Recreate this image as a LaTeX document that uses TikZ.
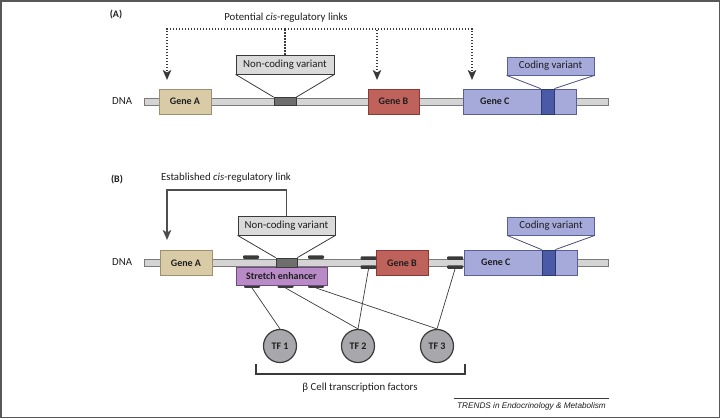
\documentclass[tikz,border=0pt]{standalone}
\usepackage{fontspec}
\setmainfont{Carlito}
\newfontfamily\trendsfont{Liberation Sans}
\usetikzlibrary{positioning,arrows.meta}

\definecolor{txtc}{HTML}{1E1E1E}
\definecolor{dnafill}{HTML}{D4D4D4}
\definecolor{dnaline}{HTML}{7A7A7A}
\definecolor{geneafill}{HTML}{D8CBA6}
\definecolor{genealine}{HTML}{9C9070}
\definecolor{genebfill}{HTML}{C0625C}
\definecolor{geneblline}{HTML}{8A3A36}
\definecolor{genecfill}{HTML}{A6AADB}
\definecolor{geneclline}{HTML}{5A5F9A}
\definecolor{cvfill}{HTML}{4B5AA6}
\definecolor{cvline}{HTML}{2E3870}
\definecolor{ncvfill}{HTML}{DADADA}
\definecolor{snvfill}{HTML}{6E6E6E}
\definecolor{enhfill}{HTML}{B88BC7}
\definecolor{enhline}{HTML}{6E4A80}
\definecolor{tffill}{HTML}{A8A8AC}
\definecolor{markc}{HTML}{3A3A3A}

\tikzset{
  dnabar/.style={draw=dnaline, fill=dnafill, line width=0.8pt, minimum width=464pt, minimum height=7pt, inner sep=0pt},
  gene/.style={draw, line width=0.8pt, minimum height=25pt, inner sep=0pt, font=\bfseries, text=txtc},
  callout/.style={draw=markc, fill=ncvfill, line width=0.8pt, minimum height=19pt, inner sep=0pt, text=txtc},
  snv/.style={draw=markc, fill=snvfill, line width=0.8pt, inner sep=0pt},
  site/.style={fill=markc, rounded corners=1pt, minimum width=16pt, minimum height=3.5pt, inner sep=0pt},
  tf/.style={circle, draw=markc, fill=tffill, line width=1.2pt, minimum size=33pt, inner sep=0pt, font=\bfseries, text=txtc},
  potlink/.style={draw=markc, line width=1.4pt, dash pattern=on 1.4pt off 1.6pt},
  estlink/.style={draw=markc!90, line width=1.3pt},
  tip/.style={-{Stealth[length=10pt,width=8.5pt,inset=2.5pt]}},
  panel/.style={font=\bfseries, text=txtc}
}

\begin{document}
\begin{tikzpicture}[x=1pt, y=-1pt, font=\fontsize{10.8}{13}\selectfont]
\useasboundingbox (0,0) rectangle (720,418);
\draw[line width=1.5pt, markc!85] (0.75,0.75) rectangle (719.25,417.25);

% (A) potential links
\node[panel] (labA) at (116,15) {(A)};
\node[text=txtc] (titleA) at (286,18) {Potential \textit{cis}-regulatory links};

\node[dnabar] (dnaA) at (376,101.5) {};
\node[text=txtc, left=8pt of dnaA] (dnatxtA) {DNA};
\node[gene, draw=genealine, fill=geneafill, minimum width=52pt] (geneAA) at (185,101.5) {Gene A};
\node[gene, draw=geneblline, fill=genebfill, minimum width=51pt] (geneBA) at (393.5,101.5) {Gene B};
\node[gene, draw=geneclline, fill=genecfill, minimum width=113pt] (geneCA) at (519.5,101.5) {};
\node[text=txtc, font=\bfseries, anchor=west] (geneCtxtA) at ([xshift=14pt]geneCA.west) {Gene C};
\node[gene, draw=cvline, fill=cvfill, minimum width=13pt] (cvA) at (547.5,101.5) {};
\node[snv, minimum width=22pt, minimum height=8pt] (snvA) at (285,101.5) {};

\node[callout, minimum width=98pt] (ncvA) at (285,64.5) {Non-coding variant};
\node[callout, draw=geneclline, fill=genecfill, minimum width=87pt, minimum height=18pt] (cvboxA) at (550.5,66) {Coding variant};
\draw[markc, line width=0.8pt] (ncvA.south west) -- (snvA.north west);
\draw[markc, line width=0.8pt] (ncvA.south east) -- (snvA.north east);
\draw[geneclline!80!black, line width=0.8pt] (cvboxA.south west) -- (cvA.north west);
\draw[geneclline!80!black, line width=0.8pt] (cvboxA.south east) -- (cvA.north east);

\coordinate (hubA) at (285,29);
\coordinate (tgtA) at (167,80);
\coordinate (tgtB) at (377,80);
\coordinate (tgtC) at (472,80);
\draw[potlink] (ncvA.north) -- (hubA);
\draw[potlink, tip] (hubA) -| (tgtA);
\draw[potlink, tip] (hubA) -| (tgtB);
\draw[potlink, tip] (hubA) -| (tgtC);

% (B) established link
\node[panel] (labB) at (117,180) {(B)};
\node[text=txtc] (titleB) at (226,178) {Established \textit{cis}-regulatory link};

\node[dnabar] (dnaB) at (376,262.5) {};
\node[text=txtc, left=8pt of dnaB] (dnatxtB) {DNA};
\node[gene, draw=genealine, fill=geneafill, minimum width=52pt] (geneAB) at (186,263) {Gene A};
\node[gene, draw=geneblline, fill=genebfill, minimum width=52pt] (geneBB) at (402,263) {Gene B};
\node[gene, draw=geneclline, fill=genecfill, minimum width=113pt] (geneCB) at (520.5,262.5) {};
\node[text=txtc, font=\bfseries, anchor=west] (geneCtxtB) at ([xshift=14pt]geneCB.west) {Gene C};
\node[gene, draw=cvline, fill=cvfill, minimum width=13pt] (cvB) at (548.5,262.5) {};

% binding sites
\node[site] (s1) at (251,257) {};
\node[site] (s2) at (316,257) {};
\node[site] (c1t) at (368.5,258) {};
\node[site] (c1b) at (368.5,267) {};
\node[site] (c2t) at (455,258) {};
\node[site] (c2b) at (455,267) {};
\node[site] (e1) at (252,286) {};
\node[site] (e2) at (285.5,286) {};
\node[site] (e3) at (316,286) {};
\node[draw=enhline, fill=enhfill, line width=0.8pt, minimum width=91pt, minimum height=18pt, inner sep=0pt, font=\bfseries, text=txtc] (enh) at (281.5,276) {Stretch enhancer};
\node[snv, minimum width=21pt, minimum height=9pt] (snvB) at (286.5,262.5) {};

\node[callout, minimum width=97pt] (ncvB) at (286.5,225.5) {Non-coding variant};
\node[callout, draw=geneclline, fill=genecfill, minimum width=87pt, minimum height=18pt] (cvboxB) at (551,226) {Coding variant};
\draw[markc, line width=0.8pt] (ncvB.south west) -- (snvB.north west);
\draw[markc, line width=0.8pt] (ncvB.south east) -- (snvB.north east);
\draw[geneclline!80!black, line width=0.8pt] (cvboxB.south west) -- (cvB.north west);
\draw[geneclline!80!black, line width=0.8pt] (cvboxB.south east) -- (cvB.north east);

\coordinate (hubB) at (167,190);
\coordinate (tgtAB) at (167,240);
\draw[estlink, tip] (ncvB.north) |- (hubB) -- (tgtAB);

% transcription factors
\node[tf] (tf1) at (280,346) {TF 1};
\node[tf] (tf2) at (358,346) {TF 2};
\node[tf] (tf3) at (437,346) {TF 3};
\draw[markc, line width=0.7pt] (e1.south) -- (tf1.north);
\draw[markc, line width=0.7pt] (e2.south) -- (tf2.north);
\draw[markc, line width=0.7pt] (c1b.south) -- (tf2.north);
\draw[markc, line width=0.7pt] (e3.south) -- (tf3.north);
\draw[markc, line width=0.7pt] (c2b.south) -- (tf3.north);

\draw[line width=1.5pt, markc] (256,364) |- (465,374) -- (465,364);
\node[text=txtc] (tflab) at (360,388) {β Cell transcription factors};

\node[font=\trendsfont\itshape\fontsize{8.2}{10}\selectfont, text=txtc] (trends) at (531.5,406) {TRENDS in Endocrinology \& Metabolism};
\draw[markc, line width=0.5pt] (trends.north west) -- (trends.north east);
\end{tikzpicture}
\end{document}
